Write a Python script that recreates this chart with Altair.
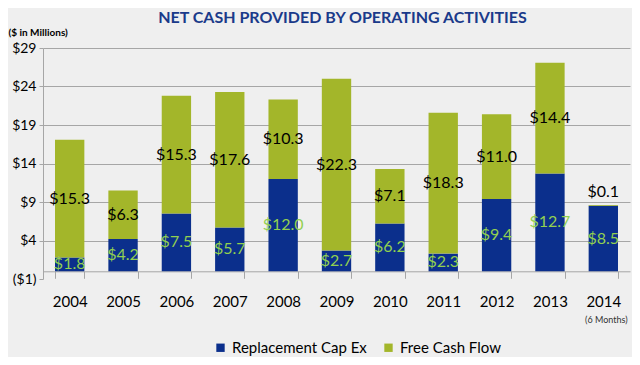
import altair as alt
import pandas as pd

years = ["2004", "2005", "2006", "2007", "2008", "2009", "2010", "2011", "2012", "2013", "2014"]
capex = [1.8, 4.2, 7.5, 5.7, 12.0, 2.7, 6.2, 2.3, 9.4, 12.7, 8.5]
fcf = [15.3, 6.3, 15.3, 17.6, 10.3, 22.3, 7.1, 18.3, 11.0, 14.4, 0.1]
series_names = ["Replacement Cap Ex", "Free Cash Flow"]
y_ticks = [-1, 4, 9, 14, 19, 24, 29]

rows = []
for i, y in enumerate(years):
    rows.append({"year": y, "series": series_names[0], "value": capex[i], "ord": 0})
    rows.append({"year": y, "series": series_names[1], "value": fcf[i], "ord": 1})
df = pd.DataFrame(rows)

FONT = "Lato"
BLUE = "#0B2F8C"
GREEN = "#A3B62A"
LABEL_GREEN = "#92D050"

xscale = alt.Scale(domain=years, paddingInner=0.45, paddingOuter=0.225)
yscale = alt.Scale(domain=[-1, 29], nice=False, zero=False)

base = alt.Chart(df).transform_stack(
    stack="value", groupby=["year"], as_=["y0", "y1"], sort=[alt.SortField("ord")]
).transform_calculate(
    pos="datum.value < 1 ? datum.y1 + 1.7 : (datum.y0 + datum.y1) / 2",
    label="'$' + format(datum.value, '.1f')",
)

bars = base.mark_bar().encode(
    x=alt.X("year:N", scale=xscale, sort=years,
            axis=alt.Axis(title=None, labelAngle=0, labelFontSize=15, labelColor="#000000",
                          labelFont=FONT, offset=-7.7, tickBand="extent", tickSize=7,
                          tickColor="#A6A6A6", domainColor="#A6A6A6", labelPadding=16,
                          grid=False)),
    y=alt.Y("y0:Q", scale=yscale,
            axis=alt.Axis(title="($ in Millions)", titleAngle=0, titleX=-35, titleY=-16,
                          titleAlign="left", titleBaseline="middle", titleFontSize=10,
                          titleFont=FONT, titleFontWeight="bold", titleColor="#000000",
                          values=y_ticks, tickCount=20, labelOverlap=False,
                          labelExpr="datum.value < 0 ? '($' + abs(datum.value) + ')' : '$' + datum.value",
                          labelFontSize=14, labelFont=FONT, labelColor="#000000",
                          labelPadding=3, tickSize=4, tickColor="#A6A6A6",
                          domainColor="#A6A6A6", gridColor="#A6A6A6",
                          gridOpacity={"condition": {"test": "datum.value < 0", "value": 0}, "value": 1})),
    y2="y1:Q",
    color=alt.Color("series:N", scale=alt.Scale(domain=series_names, range=[BLUE, GREEN]),
                    legend=alt.Legend(title=None, orient="none", direction="horizontal",
                                      legendX=170, legendY=292, symbolType="square",
                                      symbolSize=70, symbolStrokeWidth=0, labelFontSize=15,
                                      labelFont=FONT, labelColor="#000000", columnPadding=14,
                                      labelOffset=4)),
    order=alt.Order("ord:Q"),
)

labels = base.mark_text(fontSize=16, font=FONT, baseline="middle").encode(
    x=alt.X("year:N", scale=xscale, sort=years),
    y=alt.Y("pos:Q", scale=yscale),
    text="label:N",
    color=alt.Color("series:N", scale=alt.Scale(domain=series_names, range=[LABEL_GREEN, "#000000"]),
                    legend=None),
)

note_df = pd.DataFrame({"year": ["2014"], "txt": ["(6 Months)"]})
note = alt.Chart(note_df).mark_text(fontSize=9, font=FONT, color="#333333", baseline="middle", dx=3).encode(
    x=alt.X("year:N", scale=xscale, sort=years),
    y=alt.value(272),
    text="txt:N",
)

chart = alt.layer(bars, labels, note).resolve_scale(color="independent").properties(
    width=587,
    height=231,
    autosize=alt.AutoSizeParams(type="none"),
    padding={"left": 35, "top": 40, "right": 2, "bottom": 78},
    background="#EFEFEF",
    title=alt.Title("NET CASH PROVIDED BY OPERATING ACTIVITIES", fontSize=16, font=FONT,
                    fontWeight="bold", color="#1A3A8A", anchor="middle", dx=6, offset=1),
).configure_view(stroke=None)

chart.save("out.html", embed_options={"renderer": "svg", "actions": False})
